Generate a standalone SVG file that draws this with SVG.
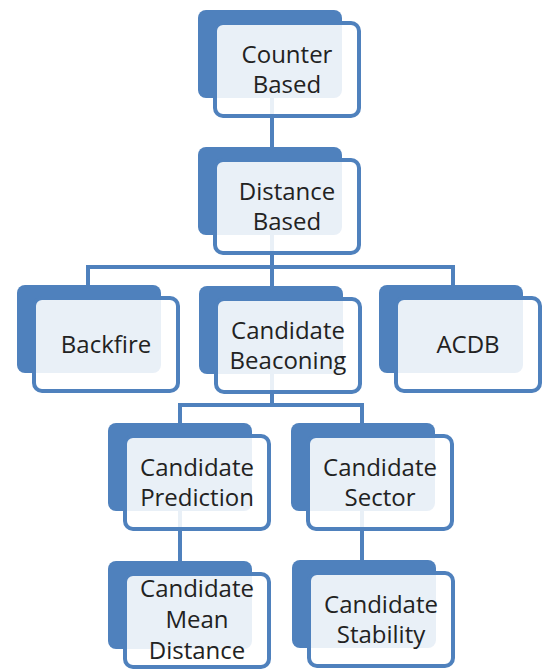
<svg xmlns="http://www.w3.org/2000/svg" width="543" height="670" viewBox="0 0 543 670">
  <style>
    .back { fill: #4F81BD; }
    .front { fill: #FFFFFF; fill-opacity: 0.88; stroke: #4F81BD; stroke-width: 4; }
    .label { font-family: "Open Sans", "Liberation Sans", sans-serif; font-size: 24px; fill: #222222; text-anchor: middle; }
    .wire { fill: none; stroke: #4F81BD; stroke-width: 4; }
  </style>
  <defs>
    <!-- one node = filled back card + translucent outlined front card -->
    <g id="card">
      <rect class="back" x="0" y="0" width="144" height="88" rx="8"/>
      <rect class="front" x="17" y="13" width="144" height="93" rx="8"/>
    </g>
  </defs>
  <rect width="543" height="670" fill="#FFFFFF"/>

  <g id="connectors">
    <path class="wire" d="M272 96 V150"/>
    <path class="wire" d="M272 230 V267 M88 267 H453 M88 265 V288 M272 265 V288 M453 265 V288"/>
    <path class="wire" d="M272 370 V405 M180 405 H362 M180 403 V426 M362 403 V426"/>
    <path class="wire" d="M180 508 V564"/>
    <path class="wire" d="M362 508 V563"/>
  </g>

  <g id="counter-based">
    <use href="#card" x="198" y="10"/>
    <text class="label"><tspan x="287" y="63">Counter</tspan><tspan x="287" y="93">Based</tspan></text>
  </g>

  <g id="distance-based">
    <use href="#card" x="198" y="147"/>
    <text class="label"><tspan x="287" y="200">Distance</tspan><tspan x="287" y="230">Based</tspan></text>
  </g>

  <g id="backfire">
    <use href="#card" x="17" y="285"/>
    <text class="label" x="106" y="353">Backfire</text>
  </g>

  <g id="candidate-beaconing">
    <use href="#card" x="199" y="286"/>
    <text class="label"><tspan x="288" y="339">Candidate</tspan><tspan x="288" y="369">Beaconing</tspan></text>
  </g>

  <g id="acdb">
    <use href="#card" x="379" y="285"/>
    <text class="label" x="468" y="353">ACDB</text>
  </g>

  <g id="candidate-prediction">
    <use href="#card" x="108" y="423"/>
    <text class="label"><tspan x="197" y="476">Candidate</tspan><tspan x="197" y="506">Prediction</tspan></text>
  </g>

  <g id="candidate-sector">
    <use href="#card" x="291" y="423"/>
    <text class="label"><tspan x="380" y="476">Candidate</tspan><tspan x="380" y="506">Sector</tspan></text>
  </g>

  <g id="candidate-mean-distance">
    <use href="#card" x="108" y="561"/>
    <text class="label"><tspan x="197" y="597">Candidate</tspan><tspan x="197" y="628">Mean</tspan><tspan x="197" y="659">Distance</tspan></text>
  </g>

  <g id="candidate-stability">
    <use href="#card" x="292" y="560"/>
    <text class="label"><tspan x="381" y="613">Candidate</tspan><tspan x="381" y="643">Stability</tspan></text>
  </g>
</svg>
